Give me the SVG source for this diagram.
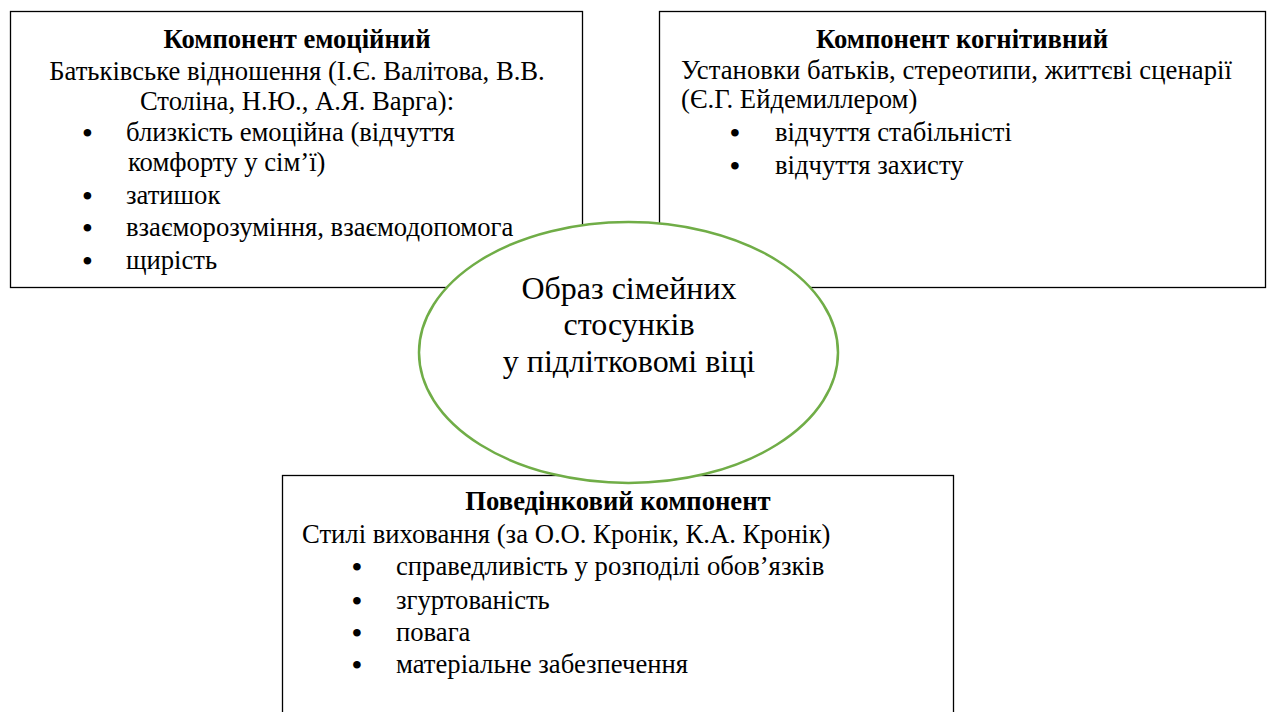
<svg xmlns="http://www.w3.org/2000/svg" width="1267" height="712" viewBox="0 0 1267 712">
<style>
.box{fill:#fff;stroke:#000;stroke-width:1.3}
.ell{fill:#fff;stroke:#70AD47;stroke-width:2.5}
text{font-family:"Liberation Serif","Times New Roman",serif;font-size:26.67px;fill:#000}
.t{font-weight:bold;text-anchor:middle}
.c{text-anchor:middle}
.b{font-size:28px;font-weight:bold}
.e{font-size:32px;text-anchor:middle}
</style>
<rect width="1267" height="712" fill="#fff"/>
<g id="emotional">
<rect class="box" x="10.5" y="11.5" width="572" height="276"/>
<text class="t" x="297" y="48">Компонент емоційний</text>
<text class="c" x="297" y="80">Батьківське відношення (І.Є. Валітова, В.В.</text>
<text class="c" x="297" y="110">Століна, Н.Ю., А.Я. Варга):</text>
<text class="b" x="82.5" y="142">•</text><text x="126" y="141">близкість емоційна (відчуття</text>
<text x="128" y="171">комфорту у сім’ї)</text>
<text class="b" x="82.5" y="205">•</text><text x="126" y="204">затишок</text>
<text class="b" x="82.5" y="237">•</text><text x="126" y="236">взаєморозуміння, взаємодопомога</text>
<text class="b" x="82.5" y="270">•</text><text x="126" y="269">щирість</text>
</g>
<g id="cognitive">
<rect class="box" x="659.5" y="11.5" width="606" height="276"/>
<text class="t" x="962" y="48">Компонент когнітивний</text>
<text x="681" y="79" textLength="551" lengthAdjust="spacing">Установки батьків, стереотипи, життєві сценарії</text>
<text x="681" y="108">(Є.Г. Ейдемиллером)</text>
<text class="b" x="730" y="142">•</text><text x="775" y="141">відчуття стабільністі</text>
<text class="b" x="730" y="175">•</text><text x="775" y="174">відчуття захисту</text>
</g>
<g id="behavioral">
<rect class="box" x="282.5" y="475.5" width="671" height="250"/>
<text class="t" x="618" y="510">Поведінковий компонент</text>
<text x="302" y="543">Стилі виховання (за О.О. Кронік, К.А. Кронік)</text>
<text class="b" x="352" y="576">•</text><text x="396" y="575">справедливість у розподілі обов’язків</text>
<text class="b" x="352" y="610">•</text><text x="396" y="609">згуртованість</text>
<text class="b" x="352" y="642">•</text><text x="396" y="641">повага</text>
<text class="b" x="352" y="674">•</text><text x="396" y="673">матеріальне забезпечення</text>
</g>
<g id="center">
<ellipse class="ell" cx="628.5" cy="352.5" rx="209.5" ry="130.5"/>
<text class="e" x="629" y="299">Образ сімейних</text>
<text class="e" x="629" y="335">стосунків</text>
<text class="e" x="629" y="372">у підлітковомі віці</text>
</g>
<g id="connectors"/>
</svg>
